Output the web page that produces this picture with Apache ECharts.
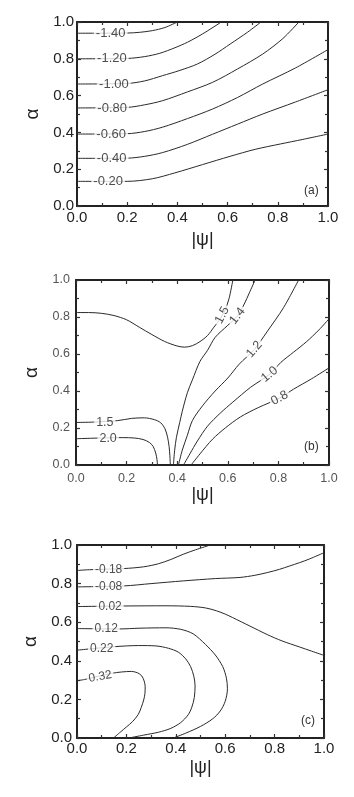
<!DOCTYPE html>
<html><head><meta charset="utf-8">
<script src="https://cdn.jsdelivr.net/npm/echarts@6/dist/echarts.min.js"></script>
<style>html,body{margin:0;padding:0;background:#fff}#c{width:354px;height:797px}</style>
</head><body><div id="c"></div>
<script>
// ---- Panel (a) contours: [|psi|, alpha]
const aLevels = ['-0.20','-0.40','-0.60','-0.80','-1.00','-1.20','-1.40'];
const aM020 = [[0,0.134],[0.2,0.134],[0.3,0.148],[0.39,0.18],[0.5,0.225],[0.61,0.27],[0.71,0.308],[0.81,0.337],[0.9,0.362],[1.0,0.391]];
const aM040 = [[0,0.259],[0.2,0.26],[0.27,0.27],[0.34,0.29],[0.44,0.335],[0.54,0.39],[0.64,0.445],[0.74,0.5],[0.87,0.565],[1,0.632]];
const aM060 = [[0,0.391],[0.2,0.393],[0.27,0.405],[0.34,0.428],[0.44,0.475],[0.54,0.527],[0.64,0.59],[0.74,0.663],[0.87,0.75],[1,0.85]];
const aM080 = [[0,0.533],[0.2,0.536],[0.27,0.55],[0.34,0.572],[0.44,0.62],[0.54,0.672],[0.64,0.745],[0.74,0.826],[0.82,0.91],[0.884,1.0]];
const aM100 = [[0,0.663],[0.2,0.666],[0.27,0.68],[0.34,0.708],[0.41,0.737],[0.48,0.772],[0.55,0.825],[0.61,0.88],[0.68,0.945],[0.733,1.0]];
const aM120 = [[0,0.8],[0.2,0.802],[0.27,0.812],[0.33,0.83],[0.39,0.86],[0.44,0.89],[0.5,0.935],[0.575,1.0]];
const aM140 = [[0,0.939],[0.2,0.94],[0.25,0.944],[0.3,0.953],[0.35,0.97],[0.4,1.0]];
const aLabels = [[0.124,0.134,'-0.20'],[0.138,0.259,'-0.40'],[0.136,0.391,'-0.60'],[0.14,0.533,'-0.80'],[0.147,0.663,'-1.00'],[0.139,0.80,'-1.20'],[0.134,0.939,'-1.40']];

// ---- Panel (b)
const bP15upper = [[0,0.824],[0.05,0.824],[0.1,0.82],[0.15,0.808],[0.2,0.785],[0.25,0.745],[0.3,0.705],[0.35,0.668],[0.40,0.643],[0.43,0.637],[0.46,0.645],[0.49,0.667],[0.52,0.70],[0.545,0.745],[0.565,0.78],[0.578,0.81],[0.59,0.84],[0.605,0.9],[0.62,1.0]];
const bP15lower = [[0,0.23],[0.07,0.232],[0.165,0.24],[0.22,0.252],[0.27,0.255],[0.31,0.245],[0.335,0.228],[0.352,0.195],[0.362,0.15],[0.368,0.1],[0.371,0.05],[0.373,0]];
const bP20 = [[0,0.142],[0.185,0.148],[0.23,0.146],[0.265,0.138],[0.29,0.122],[0.305,0.1],[0.315,0.065],[0.32,0.03],[0.322,0]];
const bP14 = [[0.385,0],[0.39,0.08],[0.397,0.15],[0.41,0.23],[0.42,0.29],[0.44,0.39],[0.46,0.46],[0.49,0.56],[0.52,0.62],[0.55,0.69],[0.60,0.755],[0.638,0.805],[0.665,0.87],[0.685,0.93],[0.708,1.0]];
const bP12 = [[0.405,0],[0.42,0.08],[0.44,0.16],[0.46,0.24],[0.50,0.32],[0.55,0.40],[0.60,0.47],[0.645,0.545],[0.705,0.625],[0.755,0.72],[0.82,0.85],[0.88,1.0]];
const bP10 = [[0.425,0],[0.45,0.06],[0.48,0.13],[0.52,0.21],[0.57,0.28],[0.62,0.34],[0.69,0.42],[0.765,0.49],[0.81,0.555],[0.86,0.61],[0.91,0.665],[0.96,0.73],[1.0,0.79]];
const bP08 = [[0.455,0],[0.49,0.06],[0.54,0.14],[0.59,0.2],[0.65,0.26],[0.72,0.31],[0.805,0.362],[0.86,0.41],[0.93,0.465],[1.0,0.525]];
const bLabels = [[0.114,0.232,'1.5'],[0.127,0.144,'2.0'],[0.578,0.81,'1.5'],[0.638,0.805,'1.4'],[0.705,0.625,'1.2'],[0.765,0.49,'1.0'],[0.805,0.362,'0.8']];
const bLabelRot = [0,0,62,52,49,39,28];

// ---- Panel (c)
const cM018 = [[0,0.868],[0.05,0.872],[0.19,0.878],[0.27,0.887],[0.33,0.903],[0.38,0.925],[0.43,0.952],[0.48,0.975],[0.54,1.0]];
const cM008 = [[0,0.783],[0.19,0.788],[0.3,0.8],[0.43,0.814],[0.56,0.826],[0.66,0.832],[0.72,0.843],[0.77,0.857],[0.82,0.874],[0.86,0.891],[0.9,0.908],[0.94,0.927],[1.0,0.96]];
const cP002 = [[0,0.681],[0.19,0.684],[0.36,0.685],[0.46,0.682],[0.52,0.674],[0.565,0.659],[0.6,0.642],[0.63,0.624],[0.7,0.58],[0.77,0.536],[0.83,0.503],[0.9,0.472],[0.95,0.45],[1.0,0.428]];
const cP012 = [[0,0.567],[0.17,0.565],[0.255,0.569],[0.36,0.571],[0.42,0.563],[0.47,0.54],[0.52,0.485],[0.56,0.43],[0.59,0.37],[0.605,0.31],[0.609,0.255],[0.6,0.19],[0.58,0.14],[0.55,0.1],[0.5,0.06],[0.44,0.025],[0.39,0]];
const cP022 = [[0,0.455],[0.15,0.473],[0.25,0.479],[0.32,0.477],[0.37,0.465],[0.41,0.445],[0.44,0.41],[0.46,0.37],[0.473,0.32],[0.478,0.27],[0.475,0.21],[0.465,0.16],[0.45,0.12],[0.42,0.08],[0.38,0.05],[0.33,0.03],[0.27,0.015],[0.21,0]];
const cP032 = [[0,0.297],[0.03,0.303],[0.14,0.335],[0.18,0.342],[0.22,0.345],[0.245,0.338],[0.262,0.322],[0.272,0.295],[0.276,0.266],[0.275,0.23],[0.27,0.197],[0.26,0.158],[0.248,0.122],[0.225,0.085],[0.2,0.057],[0.175,0.03],[0.148,0]];
const cLabels = [[0.128,0.87,'-0.18'],[0.128,0.785,'-0.08'],[0.134,0.682,'0.02'],[0.118,0.567,'0.12'],[0.1,0.462,'0.22'],[0.094,0.318,'0.32']];
const cLabelRot = [0,0,0,0,0,10];

const FONT = 'Liberation Sans, Arial, sans-serif';
const grids = [
  {left:77, top:22, width:251, height:184},
  {left:76, top:280, width:253, height:185},
  {left:77, top:545, width:247, height:193}
];
const tickFont = [15, 12.5, 15];
const tickColor = ['#222','#555','#222'];
const labMargin = [[4,3],[7,6],[3,5]];
const yNameGap = [22, 35, 36];
const xNameGap = [25, 18, 21];

function mkX(i, top){
  return {type:'value', gridIndex:i, min:0, max:1, interval:0.2, position: top?'top':'bottom',
    axisLine:{show:true, onZero:false, lineStyle:{color:'#222', width:2}},
    axisTick:{show:true, inside:true, length:4, lineStyle:{color:'#333', width:1.2}},
    minorTick:{show:true, splitNumber:2, length:3, lineStyle:{color:'#333', width:1.2}},
    splitLine:{show:false}, minorSplitLine:{show:false},
    axisLabel:{show:!top, margin:labMargin[i][0], fontSize:tickFont[i], color:tickColor[i], fontFamily:FONT, formatter:v=>v.toFixed(1)},
    name: top?'':'|ψ|', nameLocation:'middle', nameGap:xNameGap[i],
    nameTextStyle:{fontSize:18, color:'#222', fontFamily:FONT}};
}
function mkY(i, right){
  return {type:'value', gridIndex:i, min:0, max:1, interval:0.2, position: right?'right':'left',
    axisLine:{show:true, onZero:false, lineStyle:{color:'#222', width:2}},
    axisTick:{show:true, inside:true, length:4, lineStyle:{color:'#333', width:1.2}},
    minorTick:{show:true, splitNumber:2, length:3, lineStyle:{color:'#333', width:1.2}},
    splitLine:{show:false}, minorSplitLine:{show:false},
    axisLabel:{show:!right, margin:labMargin[i][1], fontSize:tickFont[i], color:tickColor[i], fontFamily:FONT, formatter:v=>v.toFixed(1)},
    name: right?'':'α', nameLocation:'middle', nameGap:yNameGap[i],
    nameTextStyle:{fontSize:19, color:'#222', fontFamily:FONT}};
}
function line(data, gi){
  return {type:'line', xAxisIndex:gi, yAxisIndex:gi, data:data, showSymbol:false, symbol:'none',
    smooth:0.3, lineStyle:{color:'#2a2a2a', width:1}, z:2, silent:true};
}
function labels(arr, rots, gi, fs){
  return {type:'scatter', xAxisIndex:gi, yAxisIndex:gi, symbolSize:1, z:5, silent:true,
    itemStyle:{color:'rgba(0,0,0,0)'},
    data: arr.map((d,k)=>({value:[d[0],d[1]], label:{rotate: rots? rots[k] : 0}})),
    label:{show:true, position:'inside', formatter:p=>arr[p.dataIndex][2], fontSize:fs, color:'#222',
      fontFamily:FONT, backgroundColor:'#fff', padding:[0,2]}};
}
const series = [
  line(aM020,0), line(aM040,0), line(aM060,0), line(aM080,0), line(aM100,0), line(aM120,0), line(aM140,0),
  labels(aLabels, null, 0, 13),
  line(bP15upper,1), line(bP15lower,1), line(bP20,1), line(bP14,1), line(bP12,1), line(bP10,1), line(bP08,1),
  labels(bLabels, bLabelRot, 1, 12.5),
  line(cM018,2), line(cM008,2), line(cP002,2), line(cP012,2), line(cP022,2), line(cP032,2),
  labels(cLabels, cLabelRot, 2, 12)
];
const chart = echarts.init(document.getElementById('c'), null, {renderer:'canvas'});
chart.setOption({
  animation:false, backgroundColor:'#fff',
  grid: grids,
  xAxis: [mkX(0,false), mkX(1,false), mkX(2,false), mkX(0,true), mkX(1,true), mkX(2,true)],
  yAxis: [mkY(0,false), mkY(1,false), mkY(2,false), mkY(0,true), mkY(1,true), mkY(2,true)],
  graphic: [
    {type:'text', left:304, top:185, style:{text:'(a)', fontSize:12, fill:'#333', fontFamily:FONT}},
    {type:'text', left:304, top:441, style:{text:'(b)', fontSize:12, fill:'#333', fontFamily:FONT}},
    {type:'text', left:301, top:715, style:{text:'(c)', fontSize:12, fill:'#333', fontFamily:FONT}}
  ],
  series: series
});
</script></body></html>
